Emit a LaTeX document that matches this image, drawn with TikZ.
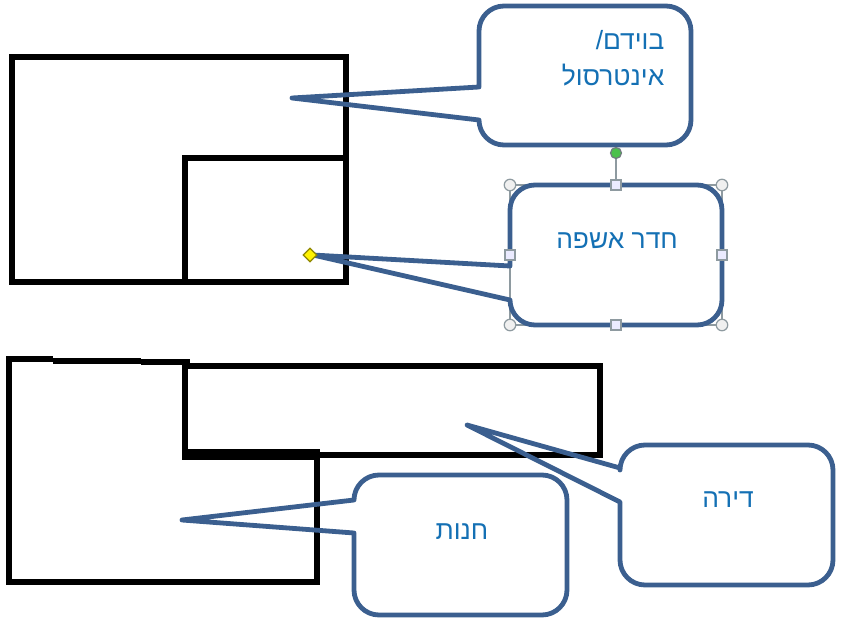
\documentclass[tikz,border=0pt]{standalone}
\usepackage{fontspec}
\usepackage{tikz}
\usetikzlibrary{calc,positioning,shapes.geometric}
\newfontfamily\hebfont[Script=Hebrew]{Liberation Sans}
\TeXXeTstate=1
\definecolor{calloutblue}{HTML}{3B5F8F}
\definecolor{labelblue}{HTML}{1470B4}
\definecolor{handlegray}{HTML}{8E9AA0}
\tikzset{
  wall/.style={line width=0.065cm,black,line join=miter},
  callout/.style={line width=0.048cm,calloutblue,line join=round},
  calloutlabel/.style={text=labelblue,font=\hebfont\fontsize{7.5pt}{10.2pt}\selectfont,inner sep=0pt,align=right},
  roundhandle/.style={circle,draw=handlegray,fill=gray!12,line width=0.012cm,minimum size=0.115cm,inner sep=0pt},
  squarehandle/.style={rectangle,draw=handlegray,fill=blue!8,line width=0.012cm,minimum size=0.1cm,inner sep=0pt},
}
\begin{document}
\begin{tikzpicture}[x=0.01cm,y=-0.01cm]
  \useasboundingbox(0,0)rectangle(845,621);
  \draw[wall](12,57)rectangle(346,282);
  \draw[wall](346,158)--(185,158)--(185,282);
  \draw[wall](7,359)--(53,359);
  \draw[wall](53,361)--(141,361);
  \draw[wall](141,362)--(190,362);
  \draw[wall](9,356)--(9,582)--(317,582)--(317,452);
  \draw[wall](185,362)--(185,455);
  \draw[wall](185,366)--(600,366)--(600,455)--(317,455);
  \fill(182,449)rectangle(320,460);
  \coordinate(AtticTip) at (292,98);
  \coordinate(RoomTip) at (313,255);
  \coordinate(FlatTip) at (467,425);
  \coordinate(ShopTip) at (182,520);
  \draw[callout](479,87)[rounded corners=0.25cm]--(479,6)--(691,6)--(691,145)--(479,145)
    [sharp corners]--(479,120)--(AtticTip)--cycle;
  \draw[handlegray,line width=0.012cm](510,185)rectangle(722,325);
  \draw[callout](510,266)[rounded corners=0.25cm]--(510,185)--(722,185)--(722,325)--(510,325)
    [sharp corners]--(510,300)--(RoomTip)--cycle;
  \draw[callout](620,468)[rounded corners=0.25cm]--(620,445)--(833,445)--(833,585)--(620,585)
    [sharp corners]--(620,502)--(FlatTip)--cycle;
  \draw[callout](354,500)[rounded corners=0.25cm]--(354,475)--(567,475)--(567,615)--(354,615)
    [sharp corners]--(354,533)--(ShopTip)--cycle;
  \node[calloutlabel,anchor=north east](attic) at (665,30){\beginR בוידם/\endR\\\beginR אינטרסול\endR};
  \node[calloutlabel](room) at (617,241){\beginR חדר אשפה\endR};
  \node[calloutlabel](flat) at (728,500){\beginR דירה\endR};
  \node[calloutlabel](shop) at (462,532){\beginR חנות\endR};
  \node[squarehandle](topmid) at (616,185){};
  \node[circle,draw=handlegray!80!black,fill=green!65!black!70,line width=0.012cm,minimum size=0.11cm,inner sep=0pt](rotate) at (616,153){};
  \draw[handlegray,line width=0.02cm](rotate)--(topmid);
  \node[squarehandle](botmid) at (616,325){};
  \node[squarehandle](leftmid) at (510,255){};
  \node[squarehandle](rightmid) at (722,255){};
  \node[roundhandle](nw) at (510,185){};
  \node[roundhandle](ne) at (722,185){};
  \node[roundhandle](sw) at (510,325){};
  \node[roundhandle](se) at (722,325){};
  \node[diamond,draw=olive,fill=yellow,line width=0.012cm,minimum size=0.14cm,inner sep=0pt](adjust) at (310,255){};
\end{tikzpicture}
\end{document}
